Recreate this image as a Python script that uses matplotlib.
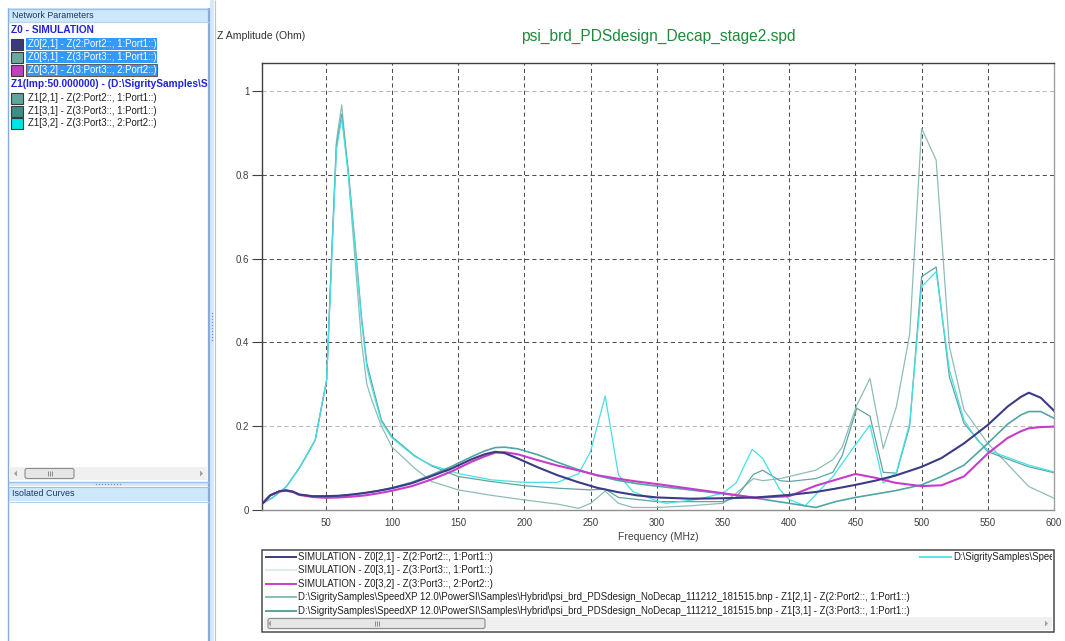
import matplotlib
matplotlib.use("Agg")
import matplotlib.pyplot as plt
from matplotlib.patches import Rectangle, Polygon, FancyBboxPatch

plt.rcParams['font.family'] = ['Liberation Sans', 'DejaVu Sans']

# ---------------- data ----------------
freq_sim = [2, 8, 15, 20, 25, 30, 40, 50, 60, 70, 80, 90, 100, 115, 130, 145, 160,
            170, 178, 185, 195, 210, 225, 240, 255, 270, 285, 300, 325, 350, 375,
            400, 420, 435, 450, 465, 480, 500, 515, 532, 550, 565, 575, 581, 590, 600]

z0_21 = [0.015, 0.035, 0.045, 0.047, 0.044, 0.037, 0.033, 0.033, 0.034, 0.037, 0.041,
         0.046, 0.052, 0.064, 0.081, 0.099, 0.121, 0.133, 0.139, 0.136, 0.123, 0.102,
         0.083, 0.067, 0.053, 0.043, 0.035, 0.030, 0.027, 0.028, 0.030, 0.036, 0.043,
         0.051, 0.060, 0.070, 0.082, 0.103, 0.124, 0.159, 0.203, 0.247, 0.270, 0.280,
         0.268, 0.237]

z0_31 = [0.015, 0.035, 0.045, 0.047, 0.044, 0.037, 0.033, 0.033, 0.034, 0.037, 0.041,
         0.046, 0.053, 0.066, 0.084, 0.104, 0.127, 0.141, 0.149, 0.150, 0.146, 0.132,
         0.114, 0.097, 0.082, 0.071, 0.063, 0.057, 0.048, 0.039, 0.028, 0.016, 0.006,
         0.020, 0.030, 0.038, 0.046, 0.060, 0.080, 0.107, 0.159, 0.205, 0.227, 0.235,
         0.235, 0.219]

z0_32 = [0.015, 0.035, 0.044, 0.046, 0.043, 0.036, 0.031, 0.029, 0.030, 0.032, 0.035,
         0.040, 0.046, 0.057, 0.073, 0.092, 0.115, 0.128, 0.137, 0.138, 0.133, 0.119,
         0.106, 0.095, 0.083, 0.075, 0.068, 0.062, 0.051, 0.040, 0.029, 0.033, 0.058,
         0.072, 0.086, 0.077, 0.065, 0.057, 0.059, 0.080, 0.135, 0.172, 0.188, 0.195,
         0.198, 0.199]

freq_z1_21 = [2, 10, 20, 30, 42, 50.6, 54.5, 58, 62, 67, 72, 77, 81, 85, 92, 100, 117,
              130, 150, 175, 200, 225, 241, 250, 261, 271, 282, 300, 325, 350, 360, 373,
              380, 393, 400, 420, 433, 440, 451, 461, 471, 481, 491, 500, 511, 521, 532,
              550, 581, 600]
z1_21 = [0.015, 0.030, 0.055, 0.100, 0.167, 0.310, 0.620, 0.880, 0.967, 0.800, 0.600,
         0.400, 0.300, 0.260, 0.200, 0.150, 0.100, 0.068, 0.048, 0.035, 0.024, 0.014,
         0.004, 0.016, 0.045, 0.016, 0.006, 0.006, 0.010, 0.016, 0.040, 0.075, 0.070,
         0.075, 0.080, 0.095, 0.120, 0.150, 0.250, 0.314, 0.147, 0.247, 0.420, 0.911,
         0.835, 0.390, 0.239, 0.159, 0.056, 0.028]

freq_z1_31 = [2, 10, 20, 30, 42, 50.6, 54.5, 58, 62, 67, 72, 77, 81, 85, 92, 100, 117,
              130, 150, 175, 200, 225, 250, 261, 271, 300, 325, 350, 360, 373, 380, 393,
              400, 420, 433, 440, 451, 461, 471, 481, 491, 500, 511, 521, 532, 550, 581,
              600]
z1_31 = [0.015, 0.030, 0.055, 0.100, 0.167, 0.310, 0.610, 0.870, 0.945, 0.810, 0.640,
         0.460, 0.350, 0.300, 0.215, 0.175, 0.130, 0.105, 0.080, 0.068, 0.058, 0.052,
         0.048, 0.050, 0.030, 0.020, 0.020, 0.020, 0.030, 0.085, 0.095, 0.070, 0.068,
         0.075, 0.090, 0.130, 0.243, 0.224, 0.090, 0.088, 0.200, 0.557, 0.580, 0.318,
         0.207, 0.139, 0.103, 0.089]

freq_z1_32 = [2, 10, 20, 30, 42, 50.6, 54.5, 58, 62, 67, 72, 77, 81, 85, 92, 100, 117,
              130, 150, 175, 200, 225, 241, 250, 261, 271, 282, 300, 307, 330, 350, 360,
              372, 380, 393, 400, 412, 433, 451, 461, 471, 481, 491, 500, 511, 521, 532,
              542, 550, 581, 600]
z1_32 = [0.015, 0.030, 0.055, 0.100, 0.167, 0.310, 0.600, 0.860, 0.935, 0.800, 0.630,
         0.450, 0.340, 0.290, 0.210, 0.172, 0.128, 0.107, 0.087, 0.072, 0.066, 0.066,
         0.087, 0.140, 0.272, 0.084, 0.044, 0.022, 0.016, 0.025, 0.040, 0.065, 0.145,
         0.123, 0.048, 0.025, 0.010, 0.080, 0.160, 0.203, 0.064, 0.090, 0.207, 0.533,
         0.569, 0.334, 0.215, 0.167, 0.143, 0.107, 0.091]

x_ticks = [50, 100, 150, 200, 250, 300, 350, 400, 450, 500, 550, 600]
y_ticks = [0, 0.2, 0.4, 0.6, 0.8, 1.0]
y_tick_labels = ['0', '0.2', '0.4', '0.6', '0.8', '1']

title = 'psi_brd_PDSdesign_Decap_stage2.spd'
bnp = r'D:\SigritySamples\SpeedXP 12.0\PowerSI\Samples\Hybrid\psi_brd_PDSdesign_NoDecap_111212_181515.bnp'
legend_rows = [
    ('SIMULATION - Z0[2,1] - Z(2:Port2::, 1:Port1::)', '#3b3b86', 1.4),
    ('SIMULATION - Z0[3,1] - Z(3:Port3::, 1:Port1::)', '#dcecec', 1.4),
    ('SIMULATION - Z0[3,2] - Z(3:Port3::, 2:Port2::)', '#c83ccc', 1.4),
    (bnp + ' - Z1[2,1] - Z(2:Port2::, 1:Port1::)', '#86c0b8', 1.4),
    (bnp + ' - Z1[3,1] - Z(3:Port3::, 1:Port1::)', '#5fa09c', 1.4),
]
# second legend column, scrolled so only its start is visible
legend_col2 = (r'D:\SigritySamples\Spee', '#55e4e8')

tree_rows = [
    ('Z0 - SIMULATION', None, 'group'),
    ('Z0[2,1] - Z(2:Port2::, 1:Port1::)', '#3a3a78', 'sel'),
    ('Z0[3,1] - Z(3:Port3::, 1:Port1::)', '#6aa8a0', 'sel'),
    ('Z0[3,2] - Z(3:Port3::, 2:Port2::)', '#c040c0', 'sel'),
    (r'Z1(Imp:50.000000) - (D:\SigritySamples\S', None, 'group'),
    ('Z1[2,1] - Z(2:Port2::, 1:Port1::)', '#5fa39b', 'item'),
    ('Z1[3,1] - Z(3:Port3::, 1:Port1::)', '#3f8c88', 'item'),
    ('Z1[3,2] - Z(3:Port3::, 2:Port2::)', '#00e4e4', 'item'),
]

W, H = 1065, 641
fig = plt.figure(figsize=(W / 100, H / 100), dpi=100, facecolor='white')

# ---------------- window chrome (pixel coordinates) ----------------
ui = fig.add_axes([0, 0, 1, 1], zorder=0)
ui.set_xlim(0, W)
ui.set_ylim(H, 0)
ui.axis('off')

edge = '#84acdc'
pale = '#d9e8f7'
header = '#cde8fb'


def rect(x0, y0, x1, y1, **kw):
    p = Rectangle((x0, y0), x1 - x0, y1 - y0, **kw)
    ui.add_patch(p)
    return p


def hline(x0, x1, y, color, lw=1.0):
    ui.plot([x0, x1], [y, y], color=color, lw=lw, solid_capstyle='butt')


def vline(x, y0, y1, color, lw=1.0):
    ui.plot([x, x], [y0, y1], color=color, lw=lw, solid_capstyle='butt')


def clipped_text(x, y, s, clip, **kw):
    t = ui.text(x, y, s, **kw)
    t.set_clip_on(True)
    t.set_clip_path(clip)
    return t


def scrollbar(x0, x1, y0, y1, t0, t1):
    rect(x0, y0, x1, y1, facecolor='#f0f0f0', edgecolor='none')
    ui.add_patch(FancyBboxPatch((t0, y0 + 1.5), t1 - t0, y1 - y0 - 3,
                                boxstyle='round,pad=0,rounding_size=2',
                                facecolor='#e6e6e6', edgecolor='#8c8c8c', lw=0.8))
    cx = (t0 + t1) / 2
    cy = (y0 + y1) / 2
    for dx in (-2, 0, 2):
        vline(cx + dx, cy - 2.5, cy + 2.5, '#7a7a7a', 0.6)
    ui.add_patch(Polygon([[x0 + 7, cy - 3], [x0 + 7, cy + 3], [x0 + 4, cy]],
                         closed=True, facecolor='#a0a0a0', edgecolor='none'))
    ui.add_patch(Polygon([[x1 - 7, cy - 3], [x1 - 7, cy + 3], [x1 - 4, cy]],
                         closed=True, facecolor='#a0a0a0', edgecolor='none'))


# left side panel frame
vline(7.5, 8, H, edge)
vline(209, 8, H, edge, 1.6)
rect(210, 0, 214, H, facecolor=pale, edgecolor='none')
vline(214.5, 0, H, '#a9c7ea', 0.8)
for yy in range(313, 343, 3):
    ui.plot([212], [yy], marker='s', ms=0.9, color='#6f98cc', mec='none')

# "Network Parameters" panel
rect(8, 8, 208.5, 22, facecolor=header, edgecolor='none')
hline(8, 209, 8.5, '#9dc0e6')
hline(8, 209, 22, '#b5d2ee', 0.8)
ui.text(12, 15.5, 'Network Parameters', fontsize=6.4, color='#1f3565', va='center')

row_y = [30, 44, 57, 70, 84, 98, 111, 123]
clip_panel = rect(8, 23, 208.3, 465, facecolor='none', edgecolor='none')
for (label, sw, kind), yy in zip(tree_rows, row_y):
    if kind == 'group':
        clipped_text(11, yy, label, clip_panel, fontsize=7.3, fontweight='bold',
                     color='#1f22e0', va='center')
        continue
    rect(10.5, yy - 5.5, 22.5, yy + 5.5, facecolor=sw, edgecolor='#3a3a3a', lw=0.8)
    if kind == 'sel':
        rect(26, yy - 6.3, 157, yy + 6.3, facecolor='#3399ff', edgecolor='none')
        ui.text(28, yy, label, fontsize=6.9, color='white', va='center')
    else:
        ui.text(28, yy, label, fontsize=6.9, color='#202020', va='center')
rect(26, row_y[3] - 6.3, 157, row_y[3] + 6.3, facecolor='none', edgecolor='#6a5a50', lw=0.8)

scrollbar(10, 207, 467, 480, 25, 74)
hline(8, 209, 481.5, '#9dc0e6')

# splitter between the two side panels
rect(8, 482, 208.5, 486, facecolor=pale, edgecolor='none')
for xx in range(96, 123, 3):
    ui.plot([xx], [484], marker='s', ms=0.9, color='#6f98cc', mec='none')

# "Isolated Curves" panel
rect(8, 487, 208.5, 501, facecolor=header, edgecolor='none')
hline(8, 209, 487, '#9dc0e6', 0.8)
hline(8, 209, 501.5, '#b5d2ee', 0.8)
ui.text(12, 494, 'Isolated Curves', fontsize=6.4, color='#1f3565', va='center')

# chart texts
ui.text(217, 36, 'Z Amplitude (Ohm)', fontsize=7.6, color='#303030', va='center')
ui.text(658, 36, title, fontsize=11.2, color='#1d8a3c', va='center', ha='center')
ui.text(658, 537, 'Frequency (MHz)', fontsize=7.5, color='#404040', va='center',
        ha='center')

# legend box
lg_x0, lg_x1, lg_y0, lg_y1 = 262, 1054, 550, 632
rect(lg_x0, lg_y0, lg_x1, lg_y1, facecolor='white', edgecolor='#4a4a4a', lw=1.1)
clip_legend = rect(lg_x0 + 1, lg_y0 + 1, lg_x1 - 2, lg_y1 - 1, facecolor='none',
                   edgecolor='none')
legend_y = [557, 570.3, 583.7, 597, 610.5]
for (label, col, lw), yy in zip(legend_rows, legend_y):
    hline(265, 297, yy, col, lw)
    ui.text(298, yy, label, fontsize=6.95, color='#202020', va='center')
hline(919, 952, legend_y[0], legend_col2[1], 1.4)
clipped_text(953, legend_y[0], legend_col2[0], clip_legend, fontsize=6.95,
             color='#202020', va='center')
scrollbar(264, 1052, 617, 630, 268, 485)

# ---------------- plot ----------------
ax = fig.add_axes([262 / W, 1 - 510 / H, (1054 - 262) / W, (510 - 63) / H], zorder=2)
ax.patch.set_alpha(0)
ax.set_xlim(1.8, 600)
ax.set_ylim(0, 1.067)

dash = (0, (4, 3))
for xv in x_ticks[:-1]:
    ax.axvline(xv, color='#505050', lw=0.75, ls=dash, zorder=1)
for yv in y_ticks[1:]:
    c = '#b8b8b8' if yv in (0.2, 1.0) else '#505050'
    ax.axhline(yv, color=c, lw=0.75, ls=dash, zorder=1)

ax.plot(freq_z1_21, z1_21, color='#8fbdb6', lw=0.9, zorder=3)
ax.plot(freq_z1_31, z1_31, color='#5fa5a0', lw=0.9, zorder=3)
ax.plot(freq_z1_32, z1_32, color='#45e0e6', lw=0.9, zorder=3)
ax.plot(freq_sim, z0_31, color='#4fa6a2', lw=1.2, zorder=4)
ax.plot(freq_sim, z0_32, color='#c83ccc', lw=1.5, zorder=5)
ax.plot(freq_sim, z0_21, color='#3b3b86', lw=1.5, zorder=6)

ax.set_xticks(x_ticks)
ax.set_xticklabels([str(v) for v in x_ticks])
ax.set_yticks(y_ticks)
ax.set_yticklabels(y_tick_labels)
ax.tick_params(axis='x', length=0, pad=6, labelsize=7, labelcolor='#404040')
ax.tick_params(axis='y', length=7, width=0.8, pad=2, labelsize=7, labelcolor='#404040',
               color='#404040')
for side, col in (('left', '#404040'), ('top', '#404040'), ('bottom', '#909090'),
                  ('right', '#a0a0a0')):
    ax.spines[side].set_color(col)
    ax.spines[side].set_linewidth(1.0)

fig.savefig('out.png', dpi=100, facecolor='white')
